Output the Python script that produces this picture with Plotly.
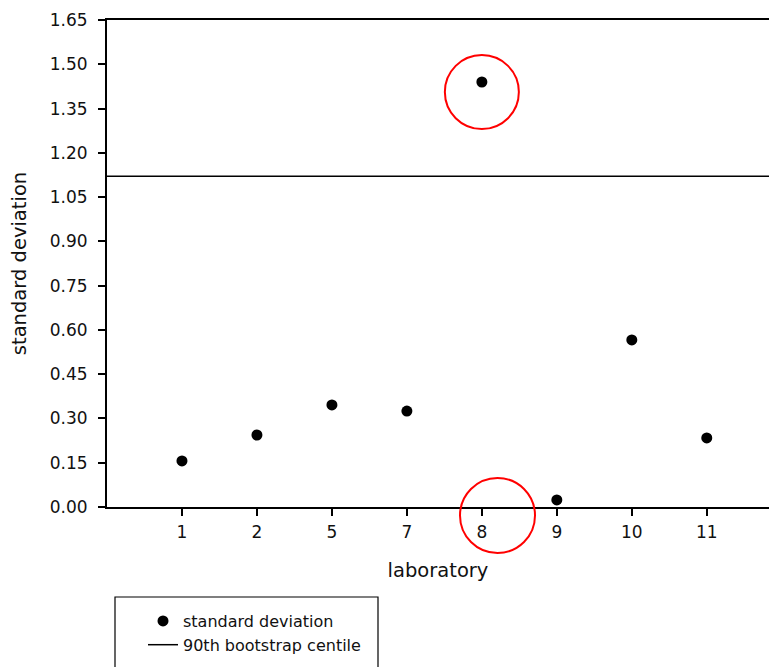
import plotly.graph_objects as go

# ---- data ----
labs = ["1", "2", "5", "7", "8", "9", "10", "11"]
std_dev = [0.156, 0.244, 0.346, 0.325, 1.44, 0.024, 0.566, 0.234]
centile_90 = 1.121
y_ticks = [round(i * 0.15, 2) for i in range(12)]

pos = list(range(1, len(labs) + 1))
X_MAX = 8.83

# geometry in screen pixels (body margin removed via post_script)
L, R, T, B = 107, 0, 20, 160
W, H = 769, 667
PW, PH = W - L - R, H - T - B


def px_x(p):
    return (p - L) / PW


def px_y(p):
    return (H - B - p) / PH


fig = go.Figure()
fig.add_trace(go.Scatter(
    x=pos, y=std_dev, mode="markers", name="standard deviation",
    marker=dict(color="black", size=11, symbol="circle"),
))
fig.add_trace(go.Scatter(
    x=[0, X_MAX], y=[centile_90, centile_90], mode="lines",
    name="90th bootstrap centile", line=dict(color="black", width=1.5),
))

font = "DejaVu Sans, sans-serif"

fig.update_layout(
    width=W, height=H,
    margin=dict(l=L, r=R, t=T, b=B, pad=0),
    plot_bgcolor="white", paper_bgcolor="white",
    font=dict(family=font, color="#111111", size=16),
    showlegend=True,
    legend=dict(
        x=px_x(143), y=px_y(604), xanchor="left", yanchor="top",
        bgcolor="rgba(0,0,0,0)", borderwidth=0,
        font=dict(size=16, family=font), tracegroupgap=0,
        itemwidth=30,
    ),
    xaxis=dict(
        range=[0, X_MAX], tickvals=pos, ticktext=labs,
        showline=True, linecolor="black", linewidth=2, mirror=True,
        ticks="outside", ticklen=7, tickwidth=1.5, tickcolor="black",
        showgrid=False, zeroline=False,
        tickfont=dict(size=17), ticklabelstandoff=2,
        title=dict(text="laboratory", font=dict(size=19.5), standoff=22),
    ),
    yaxis=dict(
        range=[0, 1.6501], tickvals=y_ticks, tickformat=".2f",
        showline=True, linecolor="black", linewidth=2, mirror=False,
        ticks="outside", ticklen=7, tickwidth=1.5, tickcolor="black",
        showgrid=False, zeroline=False,
        tickfont=dict(size=17), ticklabelstandoff=7,
        title=dict(text="standard deviation", font=dict(size=19.5), standoff=18),
    ),
    shapes=[
        # red circle around lab 8 point
        dict(type="circle", xref="x", yref="y", xsizemode="pixel", ysizemode="pixel",
             xanchor=5, yanchor=1.406, x0=-37, x1=37, y0=-37, y1=37,
             line=dict(color="red", width=2)),
        # red circle around tick label 8
        dict(type="circle", xref="paper", yref="paper",
             x0=px_x(460), x1=px_x(535), y0=px_y(553), y1=px_y(478),
             line=dict(color="red", width=2)),
        # legend box
        dict(type="rect", xref="paper", yref="paper",
             x0=px_x(115), x1=px_x(378), y0=px_y(700), y1=px_y(597),
             line=dict(color="black", width=1.2), fillcolor="rgba(0,0,0,0)"),
    ],
)

fig.write_html(
    "out.html",
    config={"displayModeBar": False},
    post_script="document.body.style.margin='0px';document.body.style.overflow='hidden';",
)
